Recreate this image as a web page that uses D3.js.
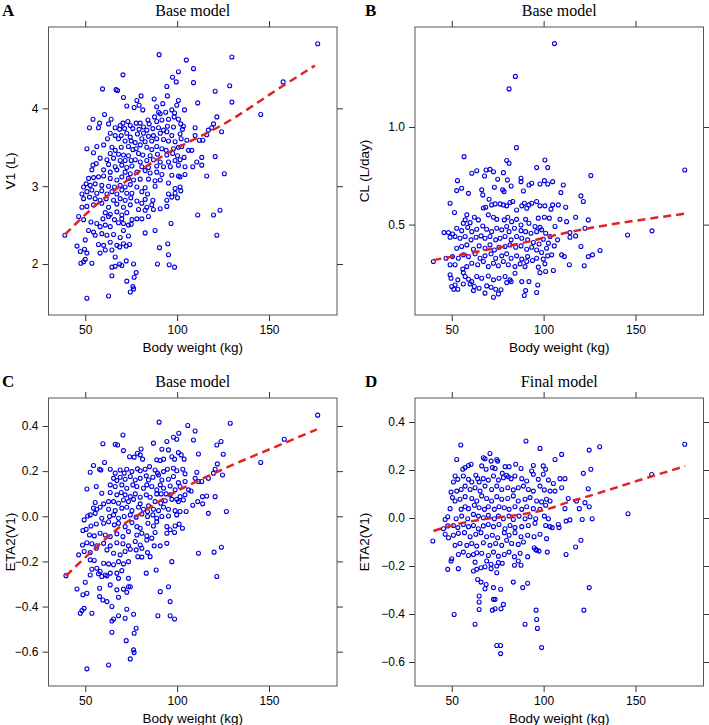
<!DOCTYPE html>
<html>
<head>
<meta charset="utf-8">
<script src="https://d3js.org/d3.v7.min.js"></script>
<style>
  body { margin: 0; background: #fff; }
  .tick text { font-family: "Liberation Sans", Arial, sans-serif; font-size: 12px; fill: #000; }
  .tick line { stroke: #333; }
  .axis-title { font-family: "Liberation Sans", Arial, sans-serif; font-size: 13.5px; fill: #000; }
  .panel-title { font-family: "Liberation Serif", "Times New Roman", serif; font-size: 16px; fill: #000; }
  .letter { font-family: "Liberation Serif", "Times New Roman", serif; font-size: 17px; font-weight: bold; fill: #000; }
</style>
</head>
<body>
<svg id="chart" width="709" height="725"></svg>
<script>
// body weight ticks shared by all panels
var xTicks = [50, 100, 150];
var v1Ticks = [2, 3, 4];
var clTicks = [0.5, 1.0];
var etaTicks = [-0.6, -0.4, -0.2, 0.0, 0.2, 0.4];

// A: V1 (L) vs body weight, base model
var v1Points = [
  [70.5,4.43],[100.7,4.47],[97.5,4.40],[99.5,4.34],[108.9,4.33],[59.4,4.25],[66.8,4.24],[67.6,4.23],[94.4,4.28],[120.7,4.22],
  [70.8,4.14],[80.4,4.16],[87.5,4.12],[94.7,4.16],[100.7,4.10],[111.2,4.07],[78.1,4.10],
  [72.6,4.03],[76.6,4.01],[81.3,3.98],[79.3,4.04],[92.2,4.06],[88.9,4.02],[99.8,4.04],[104.0,3.98],[89.9,3.95],[90.8,3.93],[93.8,3.95],[97.1,3.98],[98.6,3.94],[121.6,3.89],
  [60.5,3.92],[54.2,3.86],[64.1,3.86],[70.5,3.81],[69.0,3.78],[73.2,3.83],[74.5,3.78],[77.7,3.81],[79.9,3.81],[84.1,3.85],[84.8,3.80],[87.7,3.89],[88.9,3.83],[91.7,3.85],[95.3,3.86],[98.4,3.89],[100.7,3.86],[102.0,3.80],[103.4,3.77],
  [57.8,3.81],[57.2,3.75],[52.3,3.75],[62.7,3.80],[66.3,3.75],[68.7,3.73],[71.4,3.74],[75.9,3.74],[79.3,3.73],[81.7,3.76],[83.5,3.72],[86.8,3.74],[89.9,3.75],[92.6,3.72],[94.7,3.77],[98.0,3.76],[102.9,3.73],[109.8,3.75],[118.8,3.75],[119.8,3.80],
  [63.6,3.68],[66.3,3.65],[69.6,3.65],[72.6,3.68],[74.5,3.63],[78.4,3.67],[81.7,3.68],[84.4,3.64],[87.1,3.65],[90.8,3.68],[94.4,3.70],[97.1,3.65],[101.6,3.67],[109.8,3.65],[112.1,3.59],[114.0,3.59],[116.1,3.66],[117.0,3.72],
  [62.1,3.61],[68.1,3.61],[71.7,3.58],[75.0,3.58],[77.2,3.56],[80.8,3.61],[82.6,3.57],[86.2,3.58],[88.9,3.61],[92.6,3.60],[95.3,3.58],[98.9,3.57],[102.2,3.61],[105.3,3.59],
  [56.3,3.51],[50.9,3.48],[60.0,3.53],[64.5,3.50],[66.3,3.46],[69.6,3.50],[73.5,3.51],[75.9,3.47],[77.7,3.48],[79.9,3.53],[83.5,3.50],[86.2,3.47],[88.9,3.51],[91.7,3.48],[94.0,3.46],[98.0,3.48],[100.7,3.50],[102.5,3.51],[106.2,3.46],[108.0,3.46],
  [54.5,3.43],[63.6,3.42],[68.1,3.41],[70.8,3.40],[73.5,3.39],[79.0,3.42],[81.3,3.40],[85.3,3.39],[89.3,3.41],[94.4,3.40],[97.6,3.42],[100.2,3.39],[103.8,3.37],[120.7,3.38],
  [58.1,3.36],[61.8,3.34],[65.4,3.36],[69.0,3.33],[71.7,3.33],[75.0,3.33],[77.2,3.34],[79.9,3.31],[83.5,3.33],[87.1,3.34],[90.8,3.31],[95.3,3.31],[98.9,3.33],[101.6,3.34],[110.7,3.31],[113.4,3.37],
  [54.2,3.27],[56.0,3.29],[62.7,3.28],[66.3,3.25],[69.9,3.27],[72.6,3.24],[75.4,3.26],[80.8,3.25],[84.4,3.24],[88.9,3.26],[92.6,3.25],[96.3,3.25],[100.7,3.27],[104.3,3.25],[108.5,3.25],[113.4,3.27],
  [53.6,3.21],[60.0,3.21],[63.6,3.18],[67.2,3.21],[71.7,3.18],[74.5,3.16],[78.1,3.18],[82.6,3.20],[85.3,3.17],[88.9,3.18],[91.7,3.15],[97.1,3.14],[100.7,3.13],[104.3,3.15],[116.1,3.13],
  [51.8,3.10],[50.5,3.03],[54.5,3.11],[57.2,3.12],[60.0,3.13],[63.6,3.10],[67.2,3.08],[69.9,3.12],[73.5,3.10],[76.3,3.08],[79.9,3.09],[84.4,3.09],[88.0,3.07],[90.8,3.08],[95.3,3.04],[101.6,3.12],
  [49.1,2.99],[52.7,3.01],[55.4,3.03],[59.0,3.01],[62.7,3.00],[65.9,2.99],[69.0,3.01],[71.7,2.99],[74.5,3.02],[78.1,2.99],[82.6,2.98],[88.0,3.00],[98.9,2.97],[101.6,2.99],
  [48.2,2.90],[50.9,2.93],[53.6,2.95],[56.3,2.91],[59.0,2.94],[61.8,2.90],[64.5,2.93],[67.2,2.90],[69.9,2.95],[72.6,2.91],[75.4,2.91],[80.8,2.93],[83.9,2.90],[95.3,2.90],[98.9,2.91],[102.0,2.94],[97.1,2.86],
  [49.1,2.84],[52.3,2.86],[55.4,2.84],[58.1,2.82],[61.4,2.84],[65.4,2.82],[69.0,2.84],[71.7,2.82],[74.8,2.85],[78.1,2.81],[82.6,2.83],[86.8,2.82],[94.4,2.82],[100.2,2.85],
  [48.2,2.73],[50.9,2.74],[54.5,2.76],[59.0,2.78],[62.7,2.73],[67.2,2.77],[70.8,2.73],[74.5,2.76],[80.8,2.78],[83.5,2.73],[86.2,2.76],[90.8,2.71],[94.4,2.74],
  [60.9,2.66],[63.6,2.64],[67.2,2.67],[69.9,2.63],[72.6,2.66],[79.0,2.70],[82.6,2.69],[87.1,2.70],
  [46.4,2.61],[49.1,2.57],[53.1,2.54],[56.3,2.52],[59.6,2.58],[62.7,2.61],[65.9,2.57],[69.9,2.58],[75.4,2.57],[78.1,2.58],[80.8,2.58],[84.4,2.61],
  [51.8,2.43],[54.5,2.41],[58.1,2.48],[60.9,2.50],[63.6,2.48],[68.1,2.53],[70.8,2.52],[73.5,2.50],[75.0,2.51],[96.7,2.52],[111.2,2.63],[119.8,2.63],
  [38.9,2.37],[55.4,2.37],[59.0,2.39],[61.8,2.37],[65.4,2.38],[69.0,2.34],[70.8,2.43],[73.5,2.36],[82.6,2.40],[88.0,2.43],[121.6,2.37],
  [45.5,2.23],[50.0,2.31],[57.2,2.25],[60.0,2.24],[63.6,2.28],[67.2,2.24],[70.8,2.26],[74.1,2.25],[90.4,2.21],[94.9,2.26],
  [47.3,2.16],[49.6,2.19],[50.9,2.14],[58.1,2.14],[60.9,2.18],[64.5,2.18],[66.3,2.09],[68.7,2.22],[72.3,2.23],[95.3,2.12],
  [47.6,2.01],[49.1,2.03],[50.0,2.06],[53.6,2.01],[64.5,1.96],[66.3,1.97],[68.7,2.00],[69.9,1.98],[72.3,2.04],[76.3,2.00],[89.3,2.00],[95.7,1.99],[98.6,1.96],
  [64.5,1.85],[72.6,1.78],[76.6,1.83],[77.7,1.89],[75.9,1.71],[76.3,1.68],[74.5,1.64],[50.9,1.56],[62.7,1.59],
  [90.2,4.69],[105.0,4.62],[108.9,4.51],[129.8,4.66],[176.5,4.83],[157.7,4.34],[128.6,4.29],[129.8,4.08],[145.5,3.92],[124.2,3.70],[125.7,3.16],[123.3,2.69]
];
var v1SmoothX = [39, 55, 65, 83, 96, 116, 124, 157, 175];
var v1SmoothY = [2.38, 2.74, 2.93, 3.25, 3.44, 3.68, 3.78, 4.28, 4.55];

// B: CL (L/day) vs body weight, base model
var clPoints = [
  [85.2,0.894],[56.7,0.848],[79.9,0.828],[81.2,0.814],[100.7,0.831],[96.2,0.792],[102.2,0.792],[60.9,0.763],[63.6,0.776],[68.7,0.780],[70.8,0.783],[72.7,0.771],[67.8,0.749],[78.1,0.766],[75.0,0.732],[80.3,0.729],[87.7,0.737],[87.7,0.720],[82.3,0.698],[93.5,0.712],[92.0,0.703],[98.0,0.708],[100.4,0.725],[102.2,0.708],[104.9,0.720],[110.7,0.703],[53.1,0.725],[52.7,0.674],[55.4,0.686],[59.1,0.660],[66.3,0.678],[73.2,0.691],[77.7,0.678],[78.5,0.669],[89.0,0.672],[109.4,0.664],[120.3,0.647],[121.6,0.618],[49.1,0.609],[51.5,0.562],[66.9,0.652],[70.3,0.630],[68.5,0.589],[67.2,0.585],[71.7,0.601],[73.6,0.606],[76.3,0.606],[78.1,0.601],[79.9,0.596],[81.7,0.613],[83.2,0.618],[85.3,0.575],[88.1,0.596],[89.5,0.609],[90.8,0.584],[92.0,0.601],[93.5,0.609],[96.2,0.618],[98.0,0.596],[100.7,0.596],[104.0,0.579],[104.9,0.601],[108.0,0.601],[112.0,0.589],[117.4,0.538],[124.3,0.524],
  [58.2,0.550],[57.3,0.524],[56.3,0.507],[60.0,0.510],[62.3,0.538],[64.5,0.524],[69.9,0.550],[72.7,0.538],[74.5,0.527],[78.6,0.524],[80.5,0.538],[82.6,0.515],[85.3,0.527],[87.7,0.498],[90.2,0.527],[92.0,0.507],[95.3,0.490],[98.0,0.486],[97.1,0.533],[100.4,0.538],[103.1,0.533],[106.2,0.490],[108.9,0.527],[112.5,0.515],[114.3,0.459],[117.4,0.442],[122.5,0.481],
  [45.8,0.459],[48.2,0.459],[50.5,0.452],[52.7,0.481],[55.4,0.469],[58.7,0.486],[60.9,0.464],[63.6,0.476],[66.9,0.493],[69.0,0.476],[71.7,0.464],[74.5,0.481],[77.2,0.473],[79.9,0.490],[81.2,0.464],[84.1,0.481],[87.7,0.469],[90.2,0.464],[93.1,0.456],[96.2,0.464],[98.9,0.473],[101.1,0.456],[103.5,0.439],[107.6,0.422],[114.3,0.435],[120.3,0.388],
  [49.1,0.435],[51.8,0.439],[54.5,0.430],[57.3,0.439],[60.5,0.422],[63.2,0.435],[65.9,0.442],[68.1,0.430],[70.8,0.439],[73.9,0.422],[76.3,0.430],[79.0,0.439],[82.3,0.422],[85.3,0.439],[88.1,0.430],[91.3,0.422],[94.4,0.408],[97.5,0.401],[99.8,0.425],[102.6,0.405],[105.8,0.391],[109.8,0.345],[111.3,0.336],
  [52.7,0.379],[55.4,0.388],[58.2,0.396],[61.8,0.374],[64.9,0.391],[68.1,0.379],[70.8,0.396],[73.2,0.370],[75.7,0.384],[79.0,0.388],[81.7,0.396],[84.8,0.384],[87.7,0.391],[90.8,0.374],[93.5,0.384],[96.2,0.370],[98.9,0.357],[101.6,0.379],[104.4,0.345],[124.3,0.336],
  [40.0,0.311],[46.9,0.328],[50.4,0.336],[53.6,0.328],[56.3,0.345],[59.1,0.336],[62.7,0.350],[65.4,0.328],[68.1,0.340],[71.4,0.350],[73.9,0.328],[77.2,0.340],[79.9,0.350],[82.3,0.328],[85.3,0.340],[88.1,0.323],[91.3,0.336],[93.9,0.316],[96.2,0.328],[99.8,0.323],[102.2,0.340],[114.0,0.294],[122.1,0.289],
  [49.1,0.294],[51.8,0.294],[56.0,0.272],[58.2,0.285],[60.9,0.302],[64.1,0.294],[67.2,0.311],[69.9,0.285],[72.7,0.302],[75.4,0.289],[78.1,0.311],[80.8,0.294],[84.4,0.285],[87.2,0.299],[89.9,0.285],[90.8,0.311],[97.1,0.282],[100.7,0.299],[98.0,0.254],[101.1,0.260],[105.3,0.265],
  [49.1,0.243],[49.6,0.225],[53.3,0.217],[56.3,0.254],[57.3,0.234],[59.1,0.220],[60.9,0.208],[63.6,0.234],[66.3,0.225],[69.9,0.237],[72.7,0.217],[75.7,0.225],[79.0,0.234],[81.7,0.217],[84.4,0.251],[88.1,0.208],[92.0,0.208],
  [50.0,0.183],[51.8,0.191],[51.1,0.169],[53.3,0.169],[56.3,0.196],[60.0,0.196],[62.3,0.183],[64.9,0.174],[69.0,0.186],[71.4,0.179],[73.9,0.169],[76.8,0.166],[79.9,0.203],[82.3,0.208],[96.8,0.191],
  [68.1,0.149],[72.7,0.128],[75.4,0.145],[90.2,0.162],[96.2,0.152],[89.5,0.137],[61.8,0.162],
  [105.9,1.427],[84.6,1.259],[81.2,1.195],[176.8,0.780],[125.7,0.751],[126.6,0.345],[130.7,0.367],[145.7,0.447],[159.0,0.468]
];
var clSmoothX = [40, 70, 88, 106, 124, 150, 177];
var clSmoothY = [0.318, 0.372, 0.405, 0.445, 0.48, 0.52, 0.556];

// C: ETA2(V1) vs body weight, base model
var etaBasePoints = [
  [90.2,0.417],[105.8,0.402],[109.8,0.378],[100.9,0.368],[70.5,0.360],[98.0,0.350],[99.8,0.341],[94.4,0.331],[108.9,0.338],[59.6,0.321],[66.3,0.319],[67.6,0.316],[87.1,0.324],[121.6,0.316],
  [70.8,0.291],[80.4,0.298],[91.7,0.297],[95.3,0.294],[100.7,0.282],[111.6,0.276],[78.4,0.279],[74.1,0.264],[76.6,0.262],[81.2,0.253],[79.9,0.272],[88.9,0.250],[90.8,0.247],[92.6,0.253],[97.1,0.264],[98.6,0.253],[102.2,0.272],[103.8,0.253],
  [54.5,0.225],[60.5,0.238],[57.8,0.208],[58.5,0.205],[52.7,0.195],[63.6,0.208],[66.3,0.191],[69.0,0.205],[71.2,0.191],[72.6,0.208],[75.4,0.198],[78.4,0.210],[79.9,0.202],[82.6,0.208],[85.0,0.220],[88.0,0.205],[89.3,0.191],[92.6,0.198],[94.7,0.208],[98.0,0.213],[99.8,0.202],[103.1,0.208],[104.3,0.188],[110.7,0.195],[120.7,0.208],[121.9,0.232],
  [65.4,0.168],[67.2,0.158],[69.0,0.173],[71.7,0.164],[74.5,0.176],[77.2,0.161],[79.9,0.168],[83.2,0.179],[84.4,0.161],[86.8,0.173],[89.9,0.183],[91.7,0.161],[95.3,0.164],[98.0,0.176],[100.7,0.149],[104.3,0.154],[109.8,0.168],[111.6,0.154],[113.4,0.154],[117.0,0.168],[119.8,0.191],
  [50.9,0.121],[56.0,0.132],[63.6,0.139],[66.3,0.132],[69.9,0.139],[72.6,0.124],[75.9,0.139],[78.1,0.132],[81.7,0.124],[83.5,0.139],[86.2,0.132],[88.9,0.117],[90.8,0.139],[92.6,0.124],[96.2,0.134],[98.9,0.117],[101.6,0.132],[106.2,0.117],[107.6,0.112],
  [59.0,0.102],[63.6,0.105],[67.2,0.095],[69.6,0.105],[71.7,0.095],[74.5,0.087],[77.2,0.099],[79.9,0.084],[83.2,0.095],[85.3,0.084],[88.9,0.099],[91.3,0.099],[94.0,0.099],[96.2,0.095],[99.8,0.075],[101.6,0.087],[104.3,0.095],[120.7,0.087],[116.1,0.090],[113.8,0.087],
  [55.4,0.061],[54.5,0.036],[60.0,0.055],[62.7,0.065],[65.4,0.065],[68.1,0.058],[70.8,0.072],[73.5,0.065],[76.3,0.075],[79.9,0.055],[84.4,0.046],[88.0,0.065],[91.1,0.058],[93.5,0.069],[97.1,0.075],[100.7,0.065],[103.4,0.072],[108.5,0.049],[111.2,0.065],[113.9,0.055],
  [58.1,0.040],[56.3,0.031],[62.7,0.031],[66.3,0.025],[69.9,0.036],[72.6,0.040],[75.4,0.025],[79.0,0.040],[81.7,0.031],[83.9,0.021],[87.1,0.031],[89.9,0.025],[92.6,0.040],[95.3,0.031],[98.9,0.025],[101.6,0.021],[104.9,0.021],[117.0,0.013],
  [49.4,-0.016],[51.3,0.001],[52.7,0.006],[55.4,0.013],[59.0,-0.009],[63.2,-0.001],[65.4,0.006],[68.1,-0.009],[71.2,-0.001],[74.5,0.006],[77.7,-0.004],[80.8,0.010],[83.9,-0.001],[86.8,0.006],[88.9,-0.009],[91.7,-0.001],[95.3,0.001],[99.8,0.006],
  [48.7,-0.063],[50.5,-0.058],[53.1,-0.043],[56.0,-0.034],[60.0,-0.031],[62.7,-0.024],[65.8,-0.038],[68.1,-0.031],[71.7,-0.046],[75.4,-0.028],[78.1,-0.046],[79.9,-0.053],[84.1,-0.031],[87.1,-0.043],[88.9,-0.024],[94.4,-0.046],[96.2,-0.060],[98.9,-0.043],[101.1,-0.035],[102.9,-0.053],
  [52.3,-0.083],[54.9,-0.087],[58.1,-0.075],[60.9,-0.083],[63.6,-0.090],[67.2,-0.078],[70.5,-0.090],[73.5,-0.068],[78.1,-0.083],[80.8,-0.075],[83.5,-0.087],[88.0,-0.072],[94.4,-0.075],[98.6,-0.072],
  [48.5,-0.127],[50.9,-0.117],[53.6,-0.122],[56.3,-0.131],[60.0,-0.120],[63.6,-0.131],[67.2,-0.117],[70.5,-0.122],[73.5,-0.131],[77.2,-0.112],[79.9,-0.127],[83.5,-0.105],[86.2,-0.097],[90.8,-0.131],[94.4,-0.120],
  [46.4,-0.171],[49.4,-0.156],[52.7,-0.161],[56.0,-0.142],[61.8,-0.149],[65.4,-0.164],[69.0,-0.171],[71.7,-0.156],[74.5,-0.146],[77.7,-0.149],[80.8,-0.142],[83.9,-0.161],[87.5,-0.131],
  [52.7,-0.193],[54.9,-0.196],[60.0,-0.208],[62.7,-0.211],[65.4,-0.215],[68.1,-0.201],[70.8,-0.211],[73.5,-0.201],[78.6,-0.179],[80.8,-0.181],[85.3,-0.179],[97.1,-0.201],[111.6,-0.164],[120.1,-0.159],
  [53.6,-0.235],[56.3,-0.230],[58.1,-0.245],[60.9,-0.260],[63.6,-0.252],[67.2,-0.252],[69.9,-0.241],[73.5,-0.275],[83.2,-0.252],[88.6,-0.238],
  [39.5,-0.263],[50.0,-0.292],[52.7,-0.260],[57.2,-0.255],[59.0,-0.267],[61.8,-0.264],[68.1,-0.275],[121.6,-0.267],
  [45.5,-0.322],[48.7,-0.348],[50.9,-0.341],[57.8,-0.319],[63.6,-0.304],[67.2,-0.326],[70.8,-0.323],[73.5,-0.312],[74.5,-0.312],[90.8,-0.334],[95.3,-0.312],
  [47.3,-0.430],[48.2,-0.418],[49.4,-0.408],[53.6,-0.430],[57.8,-0.356],[59.6,-0.371],[61.8,-0.378],[64.5,-0.400],[68.1,-0.359],[72.6,-0.337],[96.2,-0.378],
  [64.5,-0.464],[65.4,-0.455],[68.1,-0.441],[71.7,-0.452],[72.6,-0.412],[76.3,-0.434],[89.5,-0.441],[96.2,-0.441],[98.6,-0.455],
  [64.5,-0.514],[76.6,-0.518],[77.7,-0.496],[72.3,-0.551],[76.3,-0.592],[76.6,-0.604],[74.5,-0.632],[62.7,-0.659],[50.9,-0.676],
  [128.9,0.412],[176.5,0.448],[158.3,0.341],[123.9,0.331],[125.1,0.275],[145.5,0.238],[124.7,0.183],[126.8,0.021],[124.1,-0.137]
];
var etaBaseSmoothX = [39.5, 55, 70, 80, 95, 105, 124, 160, 176];
var etaBaseSmoothY = [-0.264, -0.145, -0.04, 0.012, 0.09, 0.132, 0.205, 0.33, 0.385];

// D: ETA2(V1) vs body weight, final model
var etaFinalPoints = [
  [54.9,0.304],[90.4,0.321],[98.0,0.290],[70.8,0.269],[52.7,0.244],[67.2,0.251],[68.1,0.247],[71.4,0.237],[74.5,0.244],[75.0,0.237],[124.8,0.283],[109.8,0.265],[106.2,0.244],
  [56.0,0.203],[59.1,0.219],[60.5,0.224],[57.3,0.210],[66.3,0.217],[68.7,0.203],[72.1,0.210],[73.6,0.206],[79.0,0.214],[81.2,0.214],[87.7,0.206],[84.8,0.224],[94.4,0.219],[99.8,0.217],[101.1,0.203],[93.5,0.196],[77.5,0.186],[79.9,0.178],[80.8,0.172],[63.1,0.178],[64.1,0.164],
  [51.8,0.175],[50.9,0.150],[53.3,0.161],[56.3,0.175],[59.1,0.161],[60.9,0.150],[64.9,0.150],[67.2,0.164],[69.9,0.158],[72.7,0.175],[75.4,0.158],[78.1,0.168],[82.3,0.164],[84.4,0.175],[88.1,0.164],[90.8,0.154],[94.4,0.182],[97.1,0.161],[99.8,0.182],[102.6,0.158],[105.3,0.144],[108.9,0.164],[111.6,0.164],[109.8,0.126],[121.6,0.186],[124.3,0.122],[125.7,0.203],
  [49.6,0.108],[52.7,0.112],[55.1,0.119],[57.3,0.133],[60.0,0.119],[62.7,0.126],[65.4,0.112],[68.1,0.133],[71.7,0.119],[74.5,0.133],[77.2,0.119],[80.5,0.126],[83.5,0.117],[86.2,0.126],[89.0,0.133],[91.7,0.119],[94.4,0.112],[98.0,0.133],[100.4,0.117],[103.5,0.112],[106.2,0.112],
  [50.4,0.085],[51.8,0.071],[54.5,0.078],[57.3,0.089],[60.9,0.081],[63.6,0.071],[66.3,0.092],[69.0,0.081],[71.7,0.071],[74.5,0.089],[77.2,0.078],[80.5,0.081],[83.5,0.092],[86.2,0.071],[89.9,0.078],[92.6,0.085],[96.2,0.071],[98.9,0.067],[101.6,0.078],[103.5,0.071],[113.4,0.081],[117.9,0.071],[122.5,0.064],
  [49.1,0.039],[55.1,0.036],[57.3,0.047],[59.1,0.039],[62.3,0.053],[64.9,0.043],[67.8,0.036],[69.9,0.047],[73.2,0.036],[75.7,0.047],[78.6,0.043],[81.2,0.036],[84.4,0.047],[88.1,0.036],[90.8,0.047],[94.4,0.039],[98.0,0.036],[101.1,0.053],[111.6,0.039],[119.4,0.039],[124.8,0.047],
  [46.4,-0.006],[47.8,0.005],[52.4,-0.003],[55.4,0.008],[58.7,-0.003],[61.8,0.015],[64.5,0.008],[67.2,0.001],[69.9,0.011],[73.2,-0.003],[75.4,0.008],[78.1,-0.003],[81.2,0.008],[83.5,-0.006],[86.6,0.008],[89.9,-0.003],[92.6,0.005],[95.7,-0.003],[100.4,0.008],[102.6,-0.003],[112.2,-0.013],[114.3,-0.008],[121.0,-0.006],
  [45.5,-0.045],[47.8,-0.033],[50.9,-0.031],[53.3,-0.040],[56.3,-0.027],[59.1,-0.036],[61.8,-0.031],[64.5,-0.045],[67.2,-0.033],[69.9,-0.027],[72.7,-0.036],[75.7,-0.027],[79.0,-0.045],[81.7,-0.031],[84.4,-0.040],[88.1,-0.036],[91.7,-0.031],[95.3,-0.022],[101.1,-0.031],[103.5,-0.036],[108.0,-0.027],[108.4,-0.040],[104.7,-0.040],
  [39.7,-0.096],[46.4,-0.068],[48.2,-0.082],[50.9,-0.072],[53.6,-0.064],[56.9,-0.061],[60.0,-0.078],[63.1,-0.068],[65.9,-0.061],[69.0,-0.078],[72.1,-0.072],[75.0,-0.082],[78.6,-0.061],[81.2,-0.072],[84.4,-0.061],[87.7,-0.078],[91.3,-0.072],[94.8,-0.078],[98.0,-0.068],[101.6,-0.086],
  [51.8,-0.114],[54.5,-0.106],[58.2,-0.114],[60.9,-0.106],[63.6,-0.117],[67.2,-0.103],[70.8,-0.114],[73.9,-0.106],[77.2,-0.114],[79.9,-0.093],[82.6,-0.106],[86.2,-0.110],[89.0,-0.100],[94.9,-0.124],[97.5,-0.138],[96.2,-0.134],[102.0,-0.142],[112.2,-0.152],[117.4,-0.121],[120.3,-0.093],
  [50.0,-0.170],[49.6,-0.179],[53.6,-0.152],[56.3,-0.142],[59.1,-0.156],[61.8,-0.152],[63.6,-0.145],[66.3,-0.147],[69.9,-0.156],[72.7,-0.142],[75.4,-0.159],[78.6,-0.152],[81.2,-0.142],[84.1,-0.161],[87.2,-0.147],[91.3,-0.161],[95.7,-0.131],
  [62.7,-0.184],[69.0,-0.179],[71.4,-0.193],[75.4,-0.186],[77.5,-0.189],[84.1,-0.197],[86.2,-0.179],[87.7,-0.197],
  [47.8,-0.214],[53.6,-0.211],[61.8,-0.221],[63.6,-0.214],[65.9,-0.207],[68.1,-0.203],[71.4,-0.211],[74.5,-0.200],[74.5,-0.228],
  [64.1,-0.256],[65.9,-0.267],[68.7,-0.277],[68.1,-0.295],[72.7,-0.290],[76.6,-0.297],[83.5,-0.267],[88.6,-0.290],[91.3,-0.272],
  [64.9,-0.325],[64.9,-0.350],[64.9,-0.381],[72.7,-0.339],[73.6,-0.339],[72.1,-0.384],[73.6,-0.378],[76.8,-0.378],[78.1,-0.360],[95.9,-0.384],[121.9,-0.384],
  [51.3,-0.402],[62.7,-0.443],[89.9,-0.443],[96.2,-0.423],[96.6,-0.460],[74.5,-0.531],[76.6,-0.531],[76.6,-0.565],[98.9,-0.540],[124.8,-0.290],
  [130.5,0.297],[176.8,0.307],[158.8,0.181],[145.9,0.018],[126.4,-0.003]
];
var etaFinalSmoothX = [40, 52, 70, 88, 103, 113, 124, 151, 177];
var etaFinalSmoothY = [-0.054, -0.027, -0.002, 0.015, 0.039, 0.065, 0.09, 0.155, 0.216];

function zip(xs, ys) {
  return xs.map(function(x, i) { return [x, ys[i]]; });
}

var boxW = 288.5,
    boxH = 288,
    cols = [48.5, 415],
    rows = [27, 398],
    letterX = [2, 365],
    ylabX = [15, 369],
    xDomain = [30, 187];

var panels = [
  { letter: 'A', title: 'Base model', ylab: 'V1 (L)', col: 0, row: 0,
    points: v1Points, smooth: zip(v1SmoothX, v1SmoothY),
    yDomain: [1.345, 5.045], yTicks: v1Ticks, fmt: d3.format('d') },
  { letter: 'B', title: 'Base model', ylab: 'CL (L/day)', col: 1, row: 0,
    points: clPoints, smooth: zip(clSmoothX, clSmoothY),
    yDomain: [0.037, 1.512], yTicks: clTicks, fmt: d3.format('.1f') },
  { letter: 'C', title: 'Base model', ylab: 'ETA2(V1)', col: 0, row: 1,
    points: etaBasePoints, smooth: zip(etaBaseSmoothX, etaBaseSmoothY),
    yDomain: [-0.752, 0.524], yTicks: etaTicks, fmt: d3.format('.1f') },
  { letter: 'D', title: 'Final model', ylab: 'ETA2(V1)', col: 1, row: 1,
    points: etaFinalPoints, smooth: zip(etaFinalSmoothX, etaFinalSmoothY),
    yDomain: [-0.7, 0.5], yTicks: etaTicks, fmt: d3.format('.1f') }
];

var svg = d3.select('#chart');

function translate(x, y) {
  return 'translate(' + x + ',' + y + ')';
}

panels.forEach(function(p) {
  var left = cols[p.col],
      top = rows[p.row],
      x = d3.scaleLinear().domain(xDomain).range([0, boxW]),
      y = d3.scaleLinear().domain(p.yDomain).range([boxH, 0]);

  svg.append('text')
    .attr('class', 'letter')
    .attr('x', letterX[p.col])
    .attr('y', top - 11)
    .text(p.letter);

  var g = svg.append('g').attr('transform', translate(left, top));

  g.append('text')
    .attr('class', 'panel-title')
    .attr('x', boxW / 2)
    .attr('y', -11.5)
    .attr('text-anchor', 'middle')
    .text(p.title);

  var bottom = g.append('g')
    .attr('transform', translate(0, boxH))
    .call(d3.axisBottom(x).tickValues(xTicks).tickSize(6).tickSizeOuter(0).tickPadding(4));
  var topAx = g.append('g')
    .call(d3.axisTop(x).tickValues(xTicks).tickSize(6).tickSizeOuter(0).tickFormat(''));
  var leftAx = g.append('g')
    .call(d3.axisLeft(y).tickValues(p.yTicks).tickSize(6).tickSizeOuter(0).tickPadding(4).tickFormat(p.fmt));
  var rightAx = g.append('g')
    .attr('transform', translate(boxW, 0))
    .call(d3.axisRight(y).tickValues(p.yTicks).tickSize(6).tickSizeOuter(0).tickFormat(''));
  [bottom, topAx, leftAx, rightAx].forEach(function(a) { a.select('.domain').remove(); });

  g.append('rect')
    .attr('width', boxW)
    .attr('height', boxH)
    .attr('fill', 'none')
    .attr('stroke', '#555')
    .attr('stroke-width', 1);

  g.append('text')
    .attr('class', 'axis-title')
    .attr('x', boxW / 2)
    .attr('y', boxH + 36.5)
    .attr('text-anchor', 'middle')
    .text('Body weight (kg)');

  svg.append('text')
    .attr('class', 'axis-title')
    .attr('transform', translate(ylabX[p.col], top + boxH / 2) + ' rotate(-90)')
    .attr('text-anchor', 'middle')
    .text(p.ylab);

  g.append('g').selectAll('circle')
    .data(p.points)
    .enter().append('circle')
      .attr('cx', function(d) { return x(d[0]); })
      .attr('cy', function(d) { return y(d[1]); })
      .attr('r', 2)
      .attr('fill', 'none')
      .attr('stroke', '#0000e0')
      .attr('stroke-width', 1.1);

  var line = d3.line()
    .curve(d3.curveMonotoneX)
    .x(function(d) { return x(d[0]); })
    .y(function(d) { return y(d[1]); });

  g.append('path')
    .datum(p.smooth)
    .attr('d', line)
    .attr('fill', 'none')
    .attr('stroke', '#e02424')
    .attr('stroke-width', 2.5)
    .attr('stroke-dasharray', '8,5');
});
</script>
</body>
</html>
